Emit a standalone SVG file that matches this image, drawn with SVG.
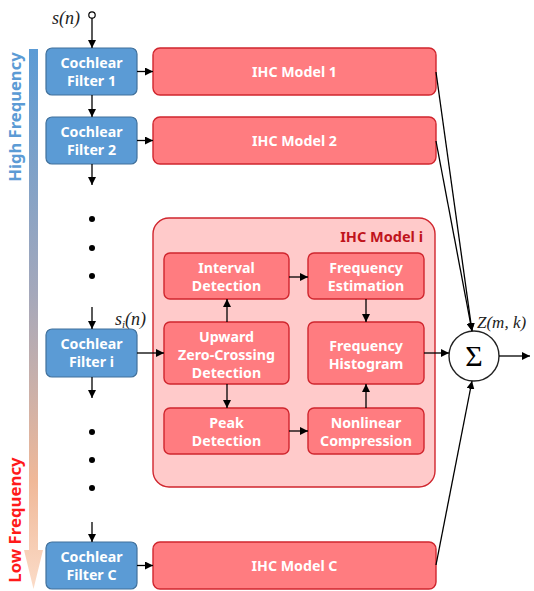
<svg xmlns="http://www.w3.org/2000/svg" width="534" height="591" viewBox="0 0 534 591">
<style>
.cf{fill:#5b9bd5;stroke:#41719c;stroke-width:1.2}
.ihc{fill:#ff7c80;stroke:#d0262e;stroke-width:1.4}
.big{fill:#ffcaca;stroke:#d0262e;stroke-width:1.4}
.t{font-family:"Noto Sans","Open Sans","Liberation Sans",sans-serif;font-weight:bold;font-size:14.2px;fill:#ffffff;text-anchor:middle}
.m{font-family:"Liberation Serif","DejaVu Serif",serif;font-style:italic;font-size:18px;fill:#222}
.c{stroke:#000;stroke-width:1.3;fill:none}
.dot{fill:#000}
</style>
<defs>
<marker id="ah" viewBox="0 0 10 10" refX="10" refY="5" markerWidth="8" markerHeight="8" markerUnits="userSpaceOnUse" orient="auto">
<path d="M0,0 L10,5 L0,10 z" fill="#000"/>
</marker>
<linearGradient id="grad" x1="0" y1="0" x2="0" y2="1">
<stop offset="0" stop-color="#5b9bd5"/>
<stop offset="0.45" stop-color="#a4a8bb"/>
<stop offset="0.8" stop-color="#f0b898"/>
<stop offset="1" stop-color="#fbdcc8"/>
</linearGradient>
</defs>

<g id="freq-arrow">
<path d="M29,49 H38 V550 H43 L33.5,589 L24,550 H29 Z" fill="url(#grad)"/>
<text x="21" y="117" transform="rotate(-90 21 117)" style="font-family:'Noto Sans','Open Sans',sans-serif;font-weight:bold;font-size:16.6px;fill:#5b9bd5;text-anchor:middle">High Frequency</text>
<text x="21" y="520" transform="rotate(-90 21 520)" style="font-family:'Noto Sans','Open Sans',sans-serif;font-weight:bold;font-size:16.8px;fill:#ff1a1a;text-anchor:middle">Low Frequency</text>
</g>

<g id="input">
<circle cx="92" cy="15" r="3.2" fill="#fff" stroke="#000" stroke-width="1.2"/>
<text x="52" y="24" class="m">s(n)</text>
</g>

<g id="cf1"><rect class="cf" x="46" y="48" width="91" height="47" rx="6"/><text class="t" x="91.5" y="67.5">Cochlear</text><text class="t" x="91.5" y="85.5">Filter 1</text></g>
<g id="cf2"><rect class="cf" x="46" y="117" width="91" height="47" rx="6"/><text class="t" x="91.5" y="136.5">Cochlear</text><text class="t" x="91.5" y="154.5">Filter 2</text></g>
<g id="cfi"><rect class="cf" x="46" y="329" width="91" height="48" rx="6"/><text class="t" x="91.5" y="348.5">Cochlear</text><text class="t" x="91.5" y="366.5">Filter i</text></g>
<g id="cfc"><rect class="cf" x="46" y="542" width="91" height="47" rx="6"/><text class="t" x="91.5" y="561.5">Cochlear</text><text class="t" x="91.5" y="579.5">Filter C</text></g>

<g id="ihc1"><rect class="ihc" x="153" y="48" width="283" height="47" rx="7"/><text class="t" x="294.5" y="76.5">IHC Model 1</text></g>
<g id="ihc2"><rect class="ihc" x="153" y="117" width="283" height="47" rx="7"/><text class="t" x="294.5" y="145.5">IHC Model 2</text></g>
<g id="ihcc"><rect class="ihc" x="153" y="542" width="283" height="47" rx="7"/><text class="t" x="294.5" y="570.5">IHC Model C</text></g>

<g id="ihci">
<rect class="big" x="153" y="218" width="282" height="269" rx="16"/>
<text x="423" y="241.5" style="font-family:'Noto Sans','Open Sans',sans-serif;font-weight:bold;font-size:14.5px;fill:#c0141c;text-anchor:end">IHC Model i</text>
</g>
<g id="interval"><rect class="ihc" x="164" y="253" width="125" height="46" rx="6"/><text class="t" x="226.5" y="272.5">Interval</text><text class="t" x="226.5" y="290.5">Detection</text></g>
<g id="festim"><rect class="ihc" x="308" y="253" width="116" height="46" rx="6"/><text class="t" x="366" y="272.5">Frequency</text><text class="t" x="366" y="290.5">Estimation</text></g>
<g id="upward"><rect class="ihc" x="164" y="322" width="125" height="62" rx="6"/><text class="t" x="226.5" y="342">Upward</text><text class="t" x="226.5" y="360">Zero-Crossing</text><text class="t" x="226.5" y="378">Detection</text></g>
<g id="fhist"><rect class="ihc" x="308" y="322" width="116" height="62" rx="6"/><text class="t" x="366" y="351">Frequency</text><text class="t" x="366" y="369">Histogram</text></g>
<g id="peak"><rect class="ihc" x="164" y="408" width="125" height="46" rx="6"/><text class="t" x="226.5" y="427.5">Peak</text><text class="t" x="226.5" y="445.5">Detection</text></g>
<g id="nonlin"><rect class="ihc" x="308" y="408" width="116" height="46" rx="6"/><text class="t" x="366" y="427.5">Nonlinear</text><text class="t" x="366" y="445.5">Compression</text></g>

<g id="sum">
<circle cx="474" cy="356" r="25" fill="#fff" stroke="#222" stroke-width="1.4"/>
<text x="474" y="366" style="font-family:'Liberation Serif','DejaVu Serif',serif;font-size:30px;fill:#000;text-anchor:middle">Σ</text>
<text x="477" y="328" class="m" style="font-size:17px">Z(m, k)</text>
</g>

<g id="labels">
<text x="115" y="325" class="m">s<tspan font-size="11" dy="3">i</tspan><tspan dy="-3">(n)</tspan></text>
<circle class="dot" cx="92" cy="219" r="3"/>
<circle class="dot" cx="92" cy="248" r="3"/>
<circle class="dot" cx="92" cy="276" r="3"/>
<circle class="dot" cx="92" cy="432" r="3"/>
<circle class="dot" cx="92" cy="460" r="3"/>
<circle class="dot" cx="92" cy="488" r="3"/>
</g>

<g id="connectors">
<line class="c" x1="92" y1="18" x2="92" y2="48" marker-end="url(#ah)"/>
<line class="c" x1="92" y1="95" x2="92" y2="117" marker-end="url(#ah)"/>
<line class="c" x1="92" y1="164" x2="92" y2="185" marker-end="url(#ah)"/>
<line class="c" x1="92" y1="307" x2="92" y2="329" marker-end="url(#ah)"/>
<line class="c" x1="92" y1="377" x2="92" y2="398" marker-end="url(#ah)"/>
<line class="c" x1="92" y1="522" x2="92" y2="542" marker-end="url(#ah)"/>
<line class="c" x1="137" y1="71.5" x2="153" y2="71.5" marker-end="url(#ah)"/>
<line class="c" x1="137" y1="140.5" x2="153" y2="140.5" marker-end="url(#ah)"/>
<line class="c" x1="137" y1="353" x2="164" y2="353" marker-end="url(#ah)"/>
<line class="c" x1="137" y1="565.5" x2="153" y2="565.5" marker-end="url(#ah)"/>
<line class="c" x1="289" y1="277" x2="308" y2="277" marker-end="url(#ah)"/>
<line class="c" x1="289" y1="431" x2="308" y2="431" marker-end="url(#ah)"/>
<line class="c" x1="366" y1="299" x2="366" y2="322" marker-end="url(#ah)"/>
<line class="c" x1="366" y1="408" x2="366" y2="384" marker-end="url(#ah)"/>
<line class="c" x1="227" y1="322" x2="227" y2="299" marker-end="url(#ah)"/>
<line class="c" x1="227" y1="384" x2="227" y2="408" marker-end="url(#ah)"/>
<line class="c" x1="424" y1="353" x2="449" y2="353" marker-end="url(#ah)"/>
<line class="c" x1="499" y1="356" x2="530" y2="356" marker-end="url(#ah)"/>
<line class="c" x1="436" y1="72" x2="472" y2="331" marker-end="url(#ah)"/>
<line class="c" x1="436" y1="141" x2="472" y2="331" marker-end="url(#ah)"/>
<line class="c" x1="436" y1="565" x2="472" y2="381" marker-end="url(#ah)"/>
</g>
</svg>
